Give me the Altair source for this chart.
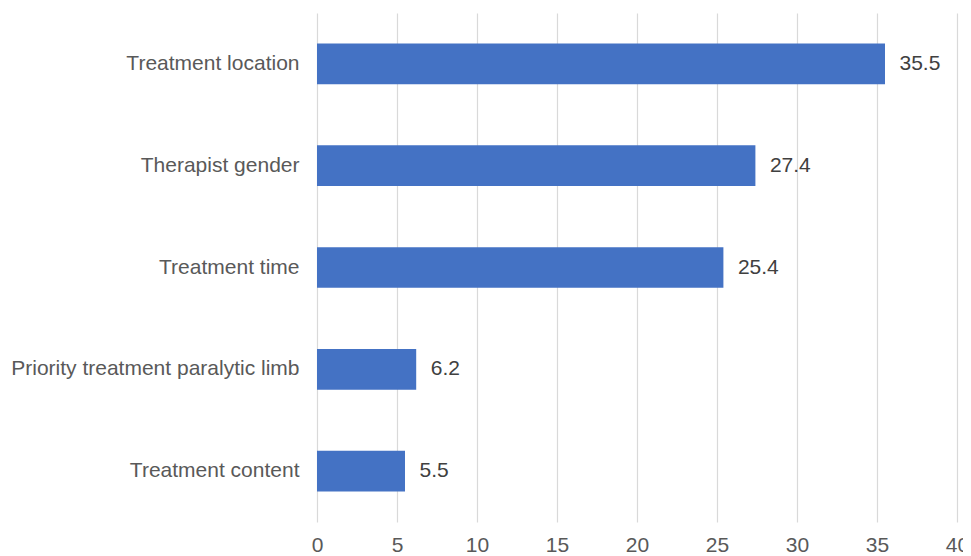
import altair as alt
import pandas as pd

categories = ["Treatment location", "Therapist gender", "Treatment time",
              "Priority treatment paralytic limb", "Treatment content"]
values = [35.5, 27.4, 25.4, 6.2, 5.5]
labels = ["35.5", "27.4", "25.4", "6.2", "5.5"]

df = pd.DataFrame({"category": categories, "value": values, "label": labels})

FONT = "Liberation Sans"
FS = 21

y_enc = alt.Y("category:N", sort=categories, title=None,
              scale=alt.Scale(paddingInner=0.6, paddingOuter=0.3),
              axis=alt.Axis(domain=False, ticks=False, labelFontSize=FS,
                            labelColor="#595959", labelFont=FONT, labelPadding=18,
                            labelLimit=400))
x_enc = alt.X("value:Q", title=None,
              scale=alt.Scale(domain=[0, 40], nice=False),
              axis=alt.Axis(values=[0, 5, 10, 15, 20, 25, 30, 35, 40], domain=False,
                            ticks=False, grid=True, gridColor="#d9d9d9", gridWidth=1.2,
                            labelFontSize=FS, labelColor="#595959", labelFont=FONT,
                            labelPadding=12, labelFlush=False))

bars = alt.Chart(df).mark_bar(color="#4472C4").encode(x=x_enc, y=y_enc)
text = alt.Chart(df).mark_text(align="left", baseline="middle", dx=14.5,
                               fontSize=FS, font=FONT, color="#404040").encode(
    x="value:Q", y=alt.Y("category:N", sort=categories), text="label:N")

chart = (bars + text).properties(
    width=640, height=509,
    autosize=alt.AutoSizeParams(type="none"),
    padding={"left": 309, "top": 5, "right": 6, "bottom": 33},
).configure_view(stroke=None)

chart.save("out.html", embed_options={"renderer": "svg", "actions": False})
